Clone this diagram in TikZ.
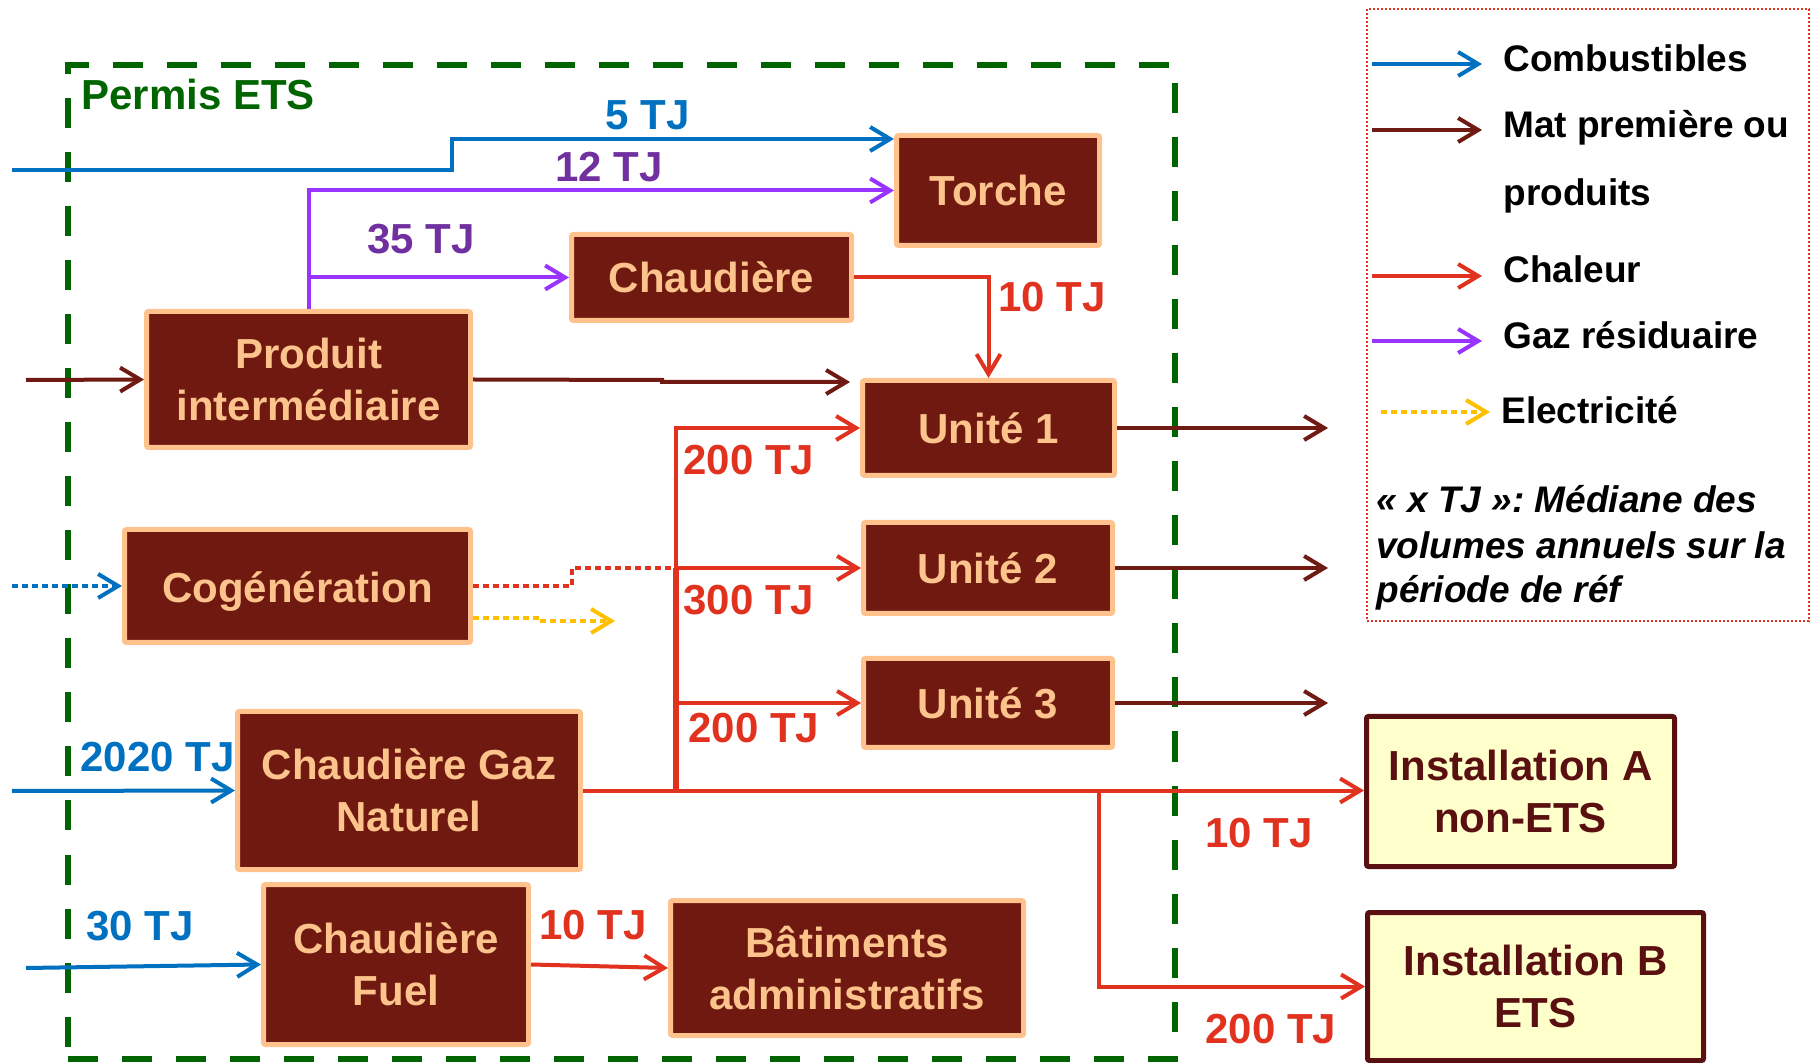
\documentclass[tikz,border=0pt]{standalone}
\usepackage{fontspec}
\setmainfont{Liberation Sans}
\usetikzlibrary{arrows.meta}
\definecolor{boxfill}{RGB}{112,25,17}
\definecolor{boxline}{RGB}{255,194,140}
\definecolor{boxtext}{RGB}{252,196,140}
\definecolor{cblue}{RGB}{0,112,192}
\definecolor{cbrown}{RGB}{112,26,20}
\definecolor{cred}{RGB}{225,50,32}
\definecolor{cpurp}{RGB}{153,51,255}
\definecolor{cpurptext}{RGB}{112,48,160}
\definecolor{cgreen}{RGB}{0,100,0}
\definecolor{cyel}{RGB}{255,192,0}
\definecolor{instfill}{RGB}{255,255,204}
\definecolor{insttext}{RGB}{90,16,16}
\begin{document}
\begin{tikzpicture}[x=0.5pt,y=-0.5pt,
  bx/.style={draw=boxline, fill=boxfill, line width=2.5pt, text=boxtext, rounded corners=1pt,
    font=\fontsize{21pt}{26pt}\selectfont\bfseries, align=center, inner sep=0pt},
  inst/.style={draw=insttext, fill=instfill, line width=2.5pt, text=insttext, rounded corners=1pt,
    font=\fontsize{21pt}{26pt}\selectfont\bfseries, align=center, inner sep=0pt},
  lbl/.style={anchor=base west, inner sep=0pt, font=\fontsize{21pt}{26pt}\selectfont\bfseries},
  leg/.style={anchor=base west, inner sep=0pt, font=\fontsize{18.5pt}{22pt}\selectfont\bfseries},
  legit/.style={anchor=base west, inner sep=0pt, font=\fontsize{18.5pt}{22pt}\selectfont\bfseries\itshape},
  arr/.style={line width=2pt, -{Straight Barb[length=10pt,width=12pt]}},
  blu/.style={arr, draw=cblue},
  brn/.style={arr, draw=cbrown},
  hot/.style={arr, draw=cred},
  pur/.style={arr, draw=cpurp},
  dots/.style={line width=2pt, dash pattern=on 3pt off 2pt},
]
\useasboundingbox (0,0) rectangle (1816,1063);

% permit frame
\node[draw=cgreen, line width=3pt, dash pattern=on 15pt off 12pt,
  minimum width=553.5pt, minimum height=496.5pt, inner sep=0pt] (permit) at (621.5,562) {};
\node[lbl, text=cgreen] (permitlbl) at (81,110) {Permis ETS};

% boxes
\node[bx, minimum width=101.5pt, minimum height=55pt] (torche) at (998,190.5) {Torche};
\node[bx, minimum width=140pt, minimum height=43pt] (chaud) at (711.5,277.5) {Chaudière};
\node[bx, minimum width=162pt, minimum height=68pt] (prod) at (308.5,379.5) {Produit\\intermédiaire};
\node[bx, minimum width=126pt, minimum height=47.5pt] (u1) at (988.5,428) {Unité 1};
\node[bx, minimum width=124.5pt, minimum height=45.5pt] (u2) at (988,568) {Unité 2};
\node[bx, minimum width=124.5pt, minimum height=44.5pt] (u3) at (988,703) {Unité 3};
\node[bx, minimum width=173pt, minimum height=56.5pt, text height=17pt, text depth=0pt] (cog) at (297.5,586) {Cogénération};
\node[bx, minimum width=171.5pt, minimum height=79pt] (gn) at (409,790.5) {Chaudière Gaz\\Naturel};
\node[bx, minimum width=132.5pt, minimum height=80pt] (fuel) at (396,964.5) {Chaudière\\Fuel};
\node[bx, minimum width=176.5pt, minimum height=67.5pt] (bat) at (847,968) {Bâtiments\\administratifs};
\node[inst, minimum width=154pt, minimum height=75pt] (instA) at (1520.5,791.5) {Installation A\\non-ETS};
\node[inst, minimum width=168pt, minimum height=74pt] (instB) at (1535.5,986.5) {Installation B\\ETS};

% helper coordinates
\coordinate (fin1) at (12,170);
\coordinate (kink1) at (452,170);
\coordinate (y139) at (0,139);
\coordinate (binA) at (26,380);
\coordinate (step1) at (662,380);
\coordinate (step2) at (662,382);
\coordinate (u1in) at (850,382);
\coordinate (o1) at (1328,428);
\coordinate (o2) at (1328,568);
\coordinate (o3) at (1328,703);
\coordinate (trunkbot) at (676,791);
\coordinate (trunkmid) at (676,568);
\coordinate (trunk3) at (676,703);
\coordinate (trunktop) at (676,428);
\coordinate (splitB) at (1099,791);
\coordinate (fin2) at (12,791);
\coordinate (fin3) at (26,968);
\coordinate (fin4) at (12,586);
\coordinate (rd1) at (572,586);
\coordinate (rd2) at (572,568);
\coordinate (ys) at (0,618);
\coordinate (yd1) at (542,618);
\coordinate (yd2) at (542,621);
\coordinate (yend) at (615,621);

% fuel to torch
\draw[blu] (fin1) -- (kink1) |- (torche.west |- y139);
% waste gas
\draw[pur] (prod.north) |- (torche.west);
\draw[pur] (prod.north |- chaud.west) -- (chaud.west);
% heat from chaudiere
\draw[hot] (chaud.east) -| (u1.north);
% raw material
\draw[brn] (binA) -- (prod.west);
\draw[brn] (prod.east) -- (step1) -- (step2) -- (u1in);
% outputs
\draw[brn] (u1.east) -- (o1);
\draw[brn] (u2.east) -- (o2);
\draw[brn] (u3.east) -- (o3);
% heat network
\draw[cred, line width=3pt] (trunkbot) -- (trunkmid);
\draw[hot] (trunktop |- trunkmid) |- (u1.west);
\draw[hot] (trunkmid) -- (u2.west);
\draw[hot] (trunk3) -- (u3.west);
\draw[hot] (gn.east) -- (gn.east -| instA.west);
\draw[hot] (splitB) |- (instB.west);
% fuels
\draw[blu] (fin2) -- (gn.west);
\draw[blu] (fin3) -- (fuel.west);
\draw[hot] (fuel.east) -- (bat.west);
% cogeneration
\draw[blu, dots] (fin4) -- (cog.west);
\draw[cred, dots] (cog.east) -- (rd1) -- (rd2) -- (trunkmid);
\draw[arr, draw=cyel, dots] (cog.east |- ys) -- (yd1) -- (yd2) -- (yend);

% flow labels
\node[lbl, text=cblue] (l5) at (605,130) {5 TJ};
\node[lbl, text=cpurptext] (l12) at (555,182) {12 TJ};
\node[lbl, text=cpurptext] (l35) at (367,254) {35 TJ};
\node[lbl, text=cred] (l10a) at (998,312) {10 TJ};
\node[lbl, text=cred] (l200a) at (683,475) {200 TJ};
\node[lbl, text=cred] (l300) at (683,615) {300 TJ};
\node[lbl, text=cred] (l200b) at (688,743) {200 TJ};
\node[lbl, text=cblue] (l2020) at (80,771) {2020 TJ};
\node[lbl, text=cblue] (l30) at (86,940) {30 TJ};
\node[lbl, text=cred] (l10b) at (539,939) {10 TJ};
\node[lbl, text=cred] (l10c) at (1205,847) {10 TJ};
\node[lbl, text=cred] (l200c) at (1205,1043) {200 TJ};

% legend
\node[draw=cred, line width=1pt, dash pattern=on 1pt off 1pt,
  minimum width=221pt, minimum height=306pt, inner sep=0pt] (legend) at (1588,315) {};
\coordinate (la1) at (1372,64);  \coordinate (lb1) at (1482,64);
\coordinate (la2) at (1372,130); \coordinate (lb2) at (1482,130);
\coordinate (la3) at (1372,276); \coordinate (lb3) at (1482,276);
\coordinate (la4) at (1372,341); \coordinate (lb4) at (1482,341);
\coordinate (la5) at (1381,412); \coordinate (lb5) at (1490,412);
\draw[blu] (la1) -- (lb1);
\draw[brn] (la2) -- (lb2);
\draw[hot] (la3) -- (lb3);
\draw[pur] (la4) -- (lb4);
\draw[arr, draw=cyel, dots] (la5) -- (lb5);
\node[leg] (t1) at (1503,72) {Combustibles};
\node[leg] (t2) at (1503,138) {Mat première ou};
\node[leg] (t3) at (1503,206) {produits};
\node[leg] (t4) at (1503,283) {Chaleur};
\node[leg] (t5) at (1503,349) {Gaz résiduaire};
\node[leg] (t6) at (1501,424) {Electricité};
\node[legit] (n1) at (1376,513) {« x TJ »: Médiane des};
\node[legit] (n2) at (1376,559) {volumes annuels sur la};
\node[legit] (n3) at (1376,603) {période de réf};
\end{tikzpicture}
\end{document}
